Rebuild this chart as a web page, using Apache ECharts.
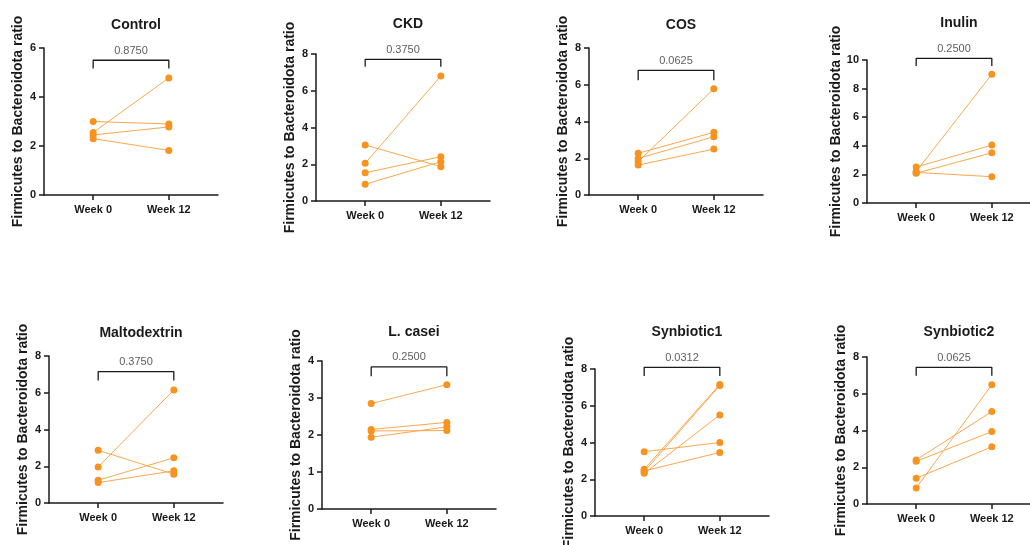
<!DOCTYPE html>
<html>
<head>
<meta charset="utf-8">
<title>Firmicutes to Bacteroidota ratio</title>
<script src="https://cdn.jsdelivr.net/npm/echarts@6/dist/echarts.min.js"></script>
<style>
  html, body { margin: 0; padding: 0; background: #fff; }
  #chart { width: 1030px; height: 545px; }
</style>
</head>
<body>
<div id="chart"></div>
<script>
// Groups, time points and Wilcoxon p-values
const groupNames = ['Control', 'CKD', 'COS', 'Inulin', 'Maltodextrin', 'L. casei', 'Synbiotic1', 'Synbiotic2'];
const weekLabels = ['Week 0', 'Week 12'];
const pValues = ['0.8750', '0.3750', '0.0625', '0.2500', '0.3750', '0.2500', '0.0312', '0.0625'];
const yAxisName = 'Firmicutes to Bacteroidota ratio';

// Y-axis ranges (max, tick step) for each group
const yMaxes = [6, 8, 8, 10, 8, 4, 8, 8];
const ySteps = [2, 2, 2, 2, 2, 1, 2, 2];

// Paired F/B ratios per animal: index i of week0 joins index i of week12
const controlWeek0 = [3.00, 2.55, 2.45, 2.30];
const controlWeek12 = [2.90, 4.78, 2.78, 1.82];
const ckdWeek0 = [3.05, 2.05, 1.54, 0.91];
const ckdWeek12 = [1.87, 6.80, 2.41, 2.14];
const cosWeek0 = [2.27, 1.99, 1.81, 1.63];
const cosWeek12 = [3.41, 3.17, 5.78, 2.50];
const inulinWeek0 = [2.51, 2.20, 2.08, 2.14];
const inulinWeek12 = [4.05, 9.00, 3.51, 1.84];
const maltoWeek0 = [2.87, 1.96, 1.24, 1.11];
const maltoWeek12 = [1.57, 6.15, 2.46, 1.75];
const caseiWeek0 = [2.85, 2.15, 2.11, 1.94];
const caseiWeek12 = [3.36, 2.34, 2.12, 2.22];
const syn1Week0 = [3.50, 2.54, 2.41, 2.32, 2.45];
const syn1Week12 = [4.00, 7.16, 7.10, 5.50, 3.46];
const syn2Week0 = [0.87, 2.40, 2.32, 1.40];
const syn2Week12 = [6.49, 5.03, 3.94, 3.11];

const week0Sets = [controlWeek0, ckdWeek0, cosWeek0, inulinWeek0, maltoWeek0, caseiWeek0, syn1Week0, syn2Week0];
const week12Sets = [controlWeek12, ckdWeek12, cosWeek12, inulinWeek12, maltoWeek12, caseiWeek12, syn1Week12, syn2Week12];

// Panel layout: plot-area box (px), title top (px), bracket levels (axis units)
const panelLayout = [
  { left: 44,  top: 48,  height: 147, titleTop: 13,  bracketHi: 5.50, bracketLo: 5.16 },
  { left: 316, top: 54,  height: 147, titleTop: 12,  bracketHi: 7.71, bracketLo: 7.31 },
  { left: 589, top: 48,  height: 147, titleTop: 13,  bracketHi: 6.78, bracketLo: 6.25 },
  { left: 867, top: 60,  height: 143, titleTop: 11,  bracketHi: 10.12, bracketLo: 9.58 },
  { left: 49,  top: 356, height: 147, titleTop: 321, bracketHi: 7.15, bracketLo: 6.66 },
  { left: 322, top: 361, height: 148, titleTop: 320, bracketHi: 3.84, bracketLo: 3.59 },
  { left: 595, top: 369, height: 147, titleTop: 320, bracketHi: 8.09, bracketLo: 7.62 },
  { left: 867, top: 357, height: 147, titleTop: 320, bracketHi: 7.44, bracketLo: 6.98 }
];
const plotWidth = 174;

const FONT = '"Liberation Sans", Arial, Helvetica, sans-serif';
const DOT = '#F7931E';
const LINK = '#F8A850';
const INK = '#1a1a1a';

const grids = [], xAxes = [], yAxes = [], titles = [], series = [];

panelLayout.forEach((p, i) => {
  grids.push({ left: p.left, top: p.top, width: plotWidth, height: p.height, outerBoundsMode: 'none' });

  titles.push({
    text: groupNames[i],
    left: p.left + plotWidth / 2,
    top: p.titleTop,
    textAlign: 'center',
    textStyle: { fontFamily: FONT, fontSize: 14, fontWeight: 'bold', color: INK }
  });

  xAxes.push({
    type: 'value', gridIndex: i, min: -0.65, max: 1.65,
    splitLine: { show: false },
    axisLine: { show: true, onZero: false, lineStyle: { color: INK, width: 1.5 } },
    axisTick: { show: true, customValues: [0, 1], length: 5, lineStyle: { color: INK, width: 1.5 } },
    axisLabel: {
      show: true, customValues: [0, 1], margin: 9,
      formatter: v => weekLabels[Math.round(v)],
      fontFamily: FONT, fontSize: 11, fontWeight: 'bold', color: INK
    }
  });

  yAxes.push({
    type: 'value', gridIndex: i, min: 0, max: yMaxes[i], interval: ySteps[i],
    name: yAxisName, nameLocation: 'middle', nameGap: 19,
    nameTextStyle: { fontFamily: FONT, fontSize: 14, fontWeight: 'bold', color: INK },
    splitLine: { show: false },
    axisLine: { show: true, onZero: false, lineStyle: { color: INK, width: 1.5 } },
    axisTick: { show: true, length: 5, lineStyle: { color: INK, width: 1.5 } },
    axisLabel: { margin: 8, fontFamily: FONT, fontSize: 11, fontWeight: 'bold', color: INK }
  });

  // one connecting line per animal
  week0Sets[i].forEach((w0, k) => {
    series.push({
      type: 'line', xAxisIndex: i, yAxisIndex: i,
      data: [[0, w0], [1, week12Sets[i][k]]],
      symbol: 'circle', symbolSize: 7,
      itemStyle: { color: DOT },
      lineStyle: { color: LINK, width: 1 },
      animation: false, silent: true
    });
  });

  // significance bracket
  series.push({
    type: 'line', xAxisIndex: i, yAxisIndex: i, clip: false,
    data: [[0, p.bracketLo], [0, p.bracketHi], [1, p.bracketHi], [1, p.bracketLo]],
    symbol: 'none',
    lineStyle: { color: INK, width: 1.3 },
    animation: false, silent: true
  });

  // p-value above the bracket
  series.push({
    type: 'scatter', xAxisIndex: i, yAxisIndex: i, clip: false,
    data: [[0.5, p.bracketHi]],
    symbolSize: 0,
    label: {
      show: true, position: 'top', distance: 4,
      formatter: () => pValues[i],
      fontFamily: FONT, fontSize: 11, color: '#333'
    },
    animation: false, silent: true
  });
});

const chart = echarts.init(document.getElementById('chart'), null, { renderer: 'canvas' });
chart.setOption({
  backgroundColor: '#ffffff',
  animation: false,
  title: titles,
  grid: grids,
  xAxis: xAxes,
  yAxis: yAxes,
  series: series
});
</script>
</body>
</html>
